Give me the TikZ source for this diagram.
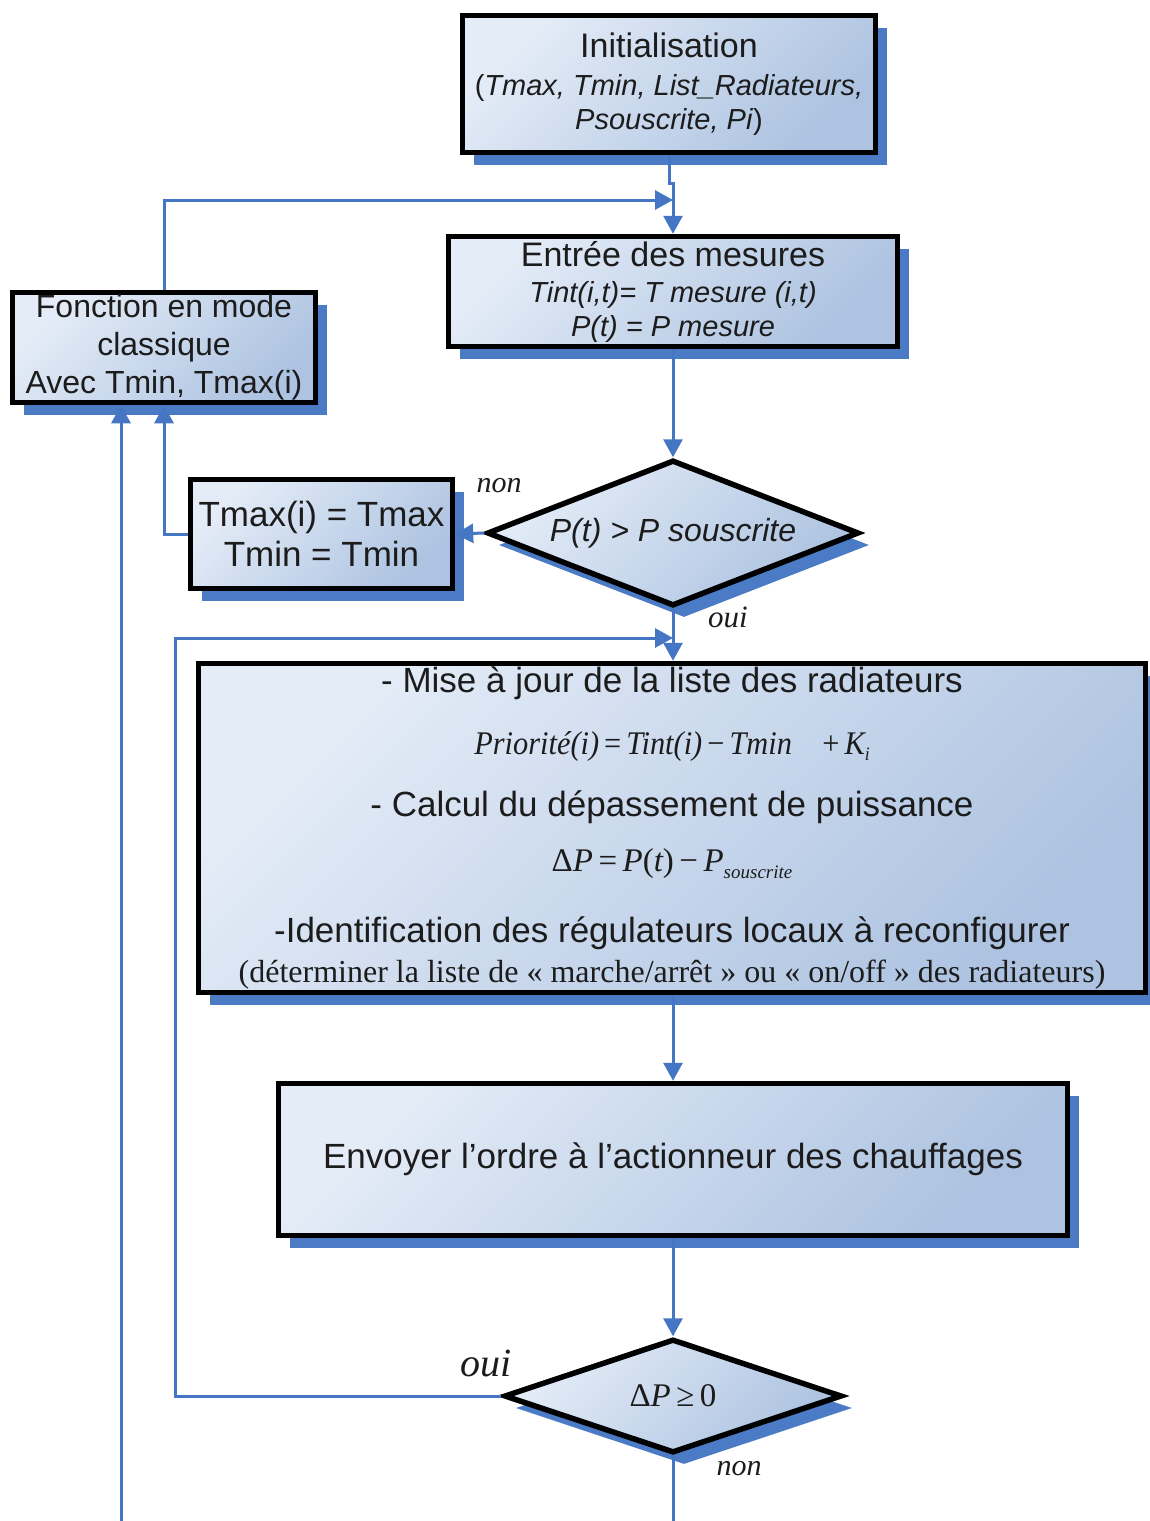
\documentclass[tikz,border=0pt]{standalone}
\usepackage{fontspec}
\setmainfont{Liberation Sans}
\newfontfamily\tnr{Liberation Serif}
\usetikzlibrary{shapes.geometric,arrows.meta,shadows}
\definecolor{boxlight}{HTML}{E4ECF7}
\definecolor{boxdark}{HTML}{ADC3E1}
\definecolor{shadowblue}{HTML}{4A7BC4}
\definecolor{lineblue}{HTML}{4576C3}
\definecolor{ink}{HTML}{1C1C1C}
\newcommand\fsz[2]{\fontsize{#1}{#2}\selectfont}
\newcommand\rit[1]{{\tnr\itshape #1}}
\newcommand\rup[1]{{\tnr #1}}
\begin{document}
\begin{tikzpicture}[x=1pt,y=-1pt,
  procbox/.style={draw=black, line width=5.5pt, top color=boxlight, bottom color=boxdark, shading angle=45,
    drop shadow={shadow xshift=11pt, shadow yshift=-12pt, fill=shadowblue, opacity=1},
    text=ink, align=center, inner sep=0pt},
  decbox/.style={diamond, procbox, aspect=2.6},
  flow/.style={draw=lineblue, line width=3pt, -{Triangle[length=18pt,width=19pt]}},
  flowplain/.style={draw=lineblue, line width=3pt},
  lbl/.style={text=ink, inner sep=0pt}
]
\fill[white] (0,0) rectangle (1150,1521);
\useasboundingbox (0,0) rectangle (1150,1521);

% boxes
\node[procbox, minimum width=413pt, minimum height=137pt, font=\fsz{29}{34}] (init) at (669,84)
  {{\fsz{34}{34}Initialisation}\\[4pt] (\textit{Tmax, Tmin, List\_Radiateurs,}\\ \textit{Psouscrite, Pi})};
\node[procbox, minimum width=449pt, minimum height=110pt, font=\fsz{29}{34}] (entree) at (673,291.5)
  {{\fsz{34}{34}Entrée des mesures}\\[2pt] \textit{Tint(i,t)= T mesure (i,t)}\\ \textit{P(t) = P mesure}};
\node[procbox, minimum width=303pt, minimum height=110pt, font=\fsz{32}{38}] (fonction) at (164,347.5)
  {Fonction en mode\\ classique\\ Avec Tmin, Tmax(i)};
\node[procbox, minimum width=262pt, minimum height=109pt, font=\fsz{35}{40}] (tmax) at (321.5,534)
  {Tmax(i) = Tmax\\ Tmin = Tmin};
\node[decbox, minimum width=372pt, minimum height=146pt, font=\fsz{32}{38}\itshape] (d1) at (673,533)
  {P(t) > P souscrite};
\node[procbox, minimum width=947pt, minimum height=329pt, font=\fsz{35}{40}] (calc) at (672,828)
  {- Mise à jour de la liste des radiateurs\\[22pt]
   {\fsz{33}{33}\scalebox{0.92}[1]{\rit{Priorité(i)}\,\rup{=}\,\rit{Tint(i)}\,\rup{−}\,\rit{Tmin}\quad\rup{+}\,\rit{K}\raisebox{-6pt}{\rit{\fsz{19}{19}i}}}}\\[22pt]
   - Calcul du dépassement de puissance\\[15pt]
   {\fsz{33}{33}\rup{Δ}\rit{P}\,\rup{=}\,\rit{P}\rup{(}\rit{t}\rup{)}\,\rup{−}\,\rit{P}\raisebox{-7pt}{\rit{\fsz{19}{19}souscrite}}}\\[31pt]
   -Identification des régulateurs locaux à reconfigurer\\
   {\tnr\fsz{32}{32}(déterminer la liste de « marche/arrêt » ou « on/off » des radiateurs)}};
\node[procbox, minimum width=789pt, minimum height=152pt, font=\fsz{35}{40}] (send) at (673,1159.5)
  {Envoyer l’ordre à l’actionneur des chauffages};
\node[decbox, minimum width=338pt, minimum height=114pt, font=\tnr\fsz{33}{38}] (d2) at (673,1396)
  {Δ\textit{P}\,≥\,0};

% labels
\node[lbl, font=\tnr\itshape\fsz{30}{30}] (lnon1) at (499,486) {non};
\node[lbl, font=\tnr\itshape\fsz{31}{31}] (loui1) at (728,617) {oui};
\node[lbl, font=\tnr\itshape\fsz{40}{40}] (loui2) at (486,1363) {oui};
\node[lbl, font=\tnr\itshape\fsz{30}{30}] (lnon2) at (739,1469) {non};

% connectors
\coordinate (j1) at (673,200);
\coordinate (j2) at (673,638);
\coordinate (lp) at (175,638);
\coordinate (e1) at (673,1521);
\coordinate (e2) at (121,1521);
\draw[flow] (init.south) -- ++(0,28) -| (entree.north);
\draw[flow] (fonction.north) |- (j1);
\draw[flow] (entree.south) -- (d1.north);
\draw[flow] (d1.west) -- (tmax.east);
\draw[flow] (tmax.west) -| (fonction.south);
\draw[flow] (d1.south) -- (d1.south |- calc.north);
\draw[flow] (d2.west) -| (lp) -- (j2);
\draw[flow] (send.north |- calc.south) -- (send.north);
\draw[flow] (send.south) -- (d2.north);
\draw[flowplain] (d2.south) -- (e1);
\draw[flow] (e2) -- (e2 |- fonction.south);
\end{tikzpicture}
\end{document}
